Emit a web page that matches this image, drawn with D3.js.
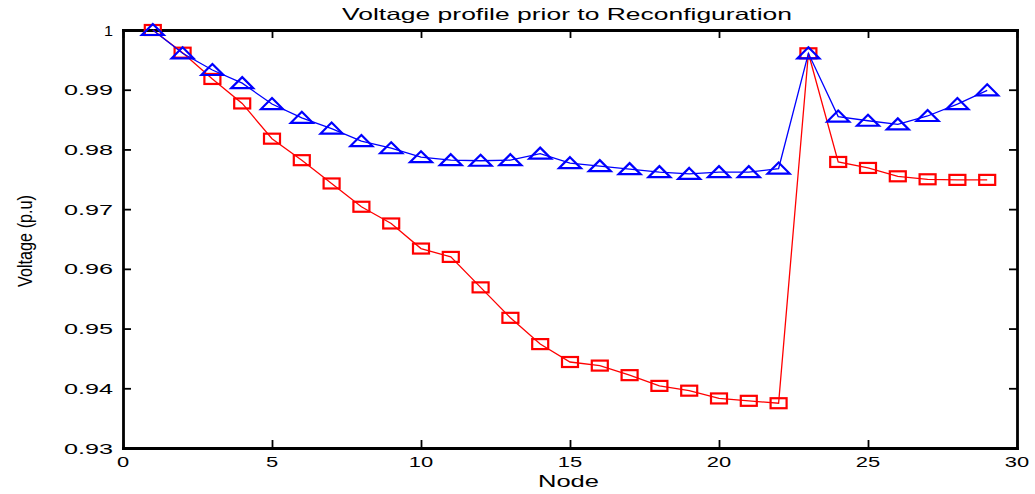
<!DOCTYPE html>
<html>
<head>
<meta charset="utf-8">
<script src="https://cdn.jsdelivr.net/npm/d3@7"></script>
<style>
  html, body { margin: 0; padding: 0; background: #fff; }
  svg { display: block; }
  text { font-family: "Liberation Sans", Arial, sans-serif; fill: #000; }
</style>
</head>
<body>
<svg id="chart" width="1035" height="494"></svg>
<script>
const nodes = d3.range(1, 30);
const beforeRed = [1.0, 0.9962, 0.9918, 0.9877, 0.9818, 0.9782, 0.9743, 0.9704, 0.9676, 0.9634,
  0.9620, 0.9569, 0.9518, 0.9474, 0.9444, 0.9438, 0.9422, 0.9404, 0.9396, 0.9383,
  0.9379, 0.9375, 0.9961, 0.9779, 0.9769, 0.9755, 0.9750, 0.9749, 0.9749];
const afterBlue = [1.0, 0.9961, 0.9933, 0.9911, 0.9876, 0.9853, 0.9835, 0.9814, 0.9802, 0.9787,
  0.9782, 0.9781, 0.9782, 0.9793, 0.9777, 0.9772, 0.9767, 0.9762, 0.9759, 0.9762,
  0.9762, 0.9768, 0.9961, 0.9855, 0.9848, 0.9842, 0.9856, 0.9876, 0.9899];
const xTicks = [0, 5, 10, 15, 20, 25, 30];
const yTicks = [0.93, 0.94, 0.95, 0.96, 0.97, 0.98, 0.99, 1];
const titleText = "Voltage profile prior to Reconfiguration";
const xLabel = "Node";
const yLabel = "Voltage (p.u)";

const svg = d3.select("#chart");
const L = 123, R = 1017, T = 30, B = 448;
const x = d3.scaleLinear().domain([0, 30]).range([L, R]);
const y = d3.scaleLinear().domain([0.93, 1]).range([B, T]);

function labelWidth(s) {
  let w = 0;
  for (const c of s) w += (c === ".") ? 12 : 12.2;
  return w;
}

// Axes (ticks inward)
const tickLen = 8;
const axB = svg.append("g").attr("transform", `translate(0,${B})`)
  .call(d3.axisBottom(x).tickValues(xTicks).tickSize(-tickLen).tickSizeOuter(0).tickFormat(""));
const axT = svg.append("g").attr("transform", `translate(0,${T})`)
  .call(d3.axisTop(x).tickValues(xTicks).tickSize(-tickLen).tickSizeOuter(0).tickFormat(""));
const axLft = svg.append("g").attr("transform", `translate(${L},0)`)
  .call(d3.axisLeft(y).tickValues(yTicks).tickSize(-tickLen).tickSizeOuter(0).tickFormat(""));
const axRt = svg.append("g").attr("transform", `translate(${R},0)`)
  .call(d3.axisRight(y).tickValues(yTicks).tickSize(-tickLen).tickSizeOuter(0).tickFormat(""));
[axB, axT, axLft, axRt].forEach(g => {
  g.select(".domain").attr("stroke", "#000").attr("stroke-width", 2.8)
    .attr("stroke-linecap", "square");
  g.selectAll(".tick line").attr("stroke", "#000").attr("stroke-width", 1.8);
});

// Tick labels
svg.append("g").selectAll("text").data(xTicks).join("text")
  .attr("x", d => x(d)).attr("y", 467)
  .attr("text-anchor", "middle").attr("font-size", 15)
  .attr("textLength", d => labelWidth(String(d)))
  .attr("lengthAdjust", "spacingAndGlyphs")
  .text(d => String(d));
svg.append("g").selectAll("text").data(yTicks).join("text")
  .attr("x", 113).attr("y", d => y(d) + 5.5)
  .attr("text-anchor", "end").attr("font-size", 15)
  .attr("textLength", d => d === 1 ? 9 : 49)
  .attr("lengthAdjust", "spacingAndGlyphs")
  .text(d => d === 1 ? "1" : d3.format(".2f")(d));

// Title and axis labels
svg.append("text").attr("x", 567).attr("y", 19.5).attr("text-anchor", "middle")
  .attr("font-size", 16.5).attr("textLength", 450).attr("lengthAdjust", "spacingAndGlyphs")
  .text(titleText);
svg.append("text").attr("x", 568.5).attr("y", 487).attr("text-anchor", "middle")
  .attr("font-size", 17).attr("textLength", 61).attr("lengthAdjust", "spacingAndGlyphs")
  .text(xLabel);
svg.append("text").attr("transform", "translate(32,241) rotate(-90)")
  .attr("text-anchor", "middle").attr("font-size", 20)
  .attr("textLength", 92).attr("lengthAdjust", "spacingAndGlyphs")
  .text(yLabel);

const line = d3.line().x((d, i) => x(nodes[i])).y(d => y(d));

// Red series (squares)
svg.append("path").datum(beforeRed).attr("d", line)
  .attr("fill", "none").attr("stroke", "#ff0000").attr("stroke-width", 1.3);
svg.append("g").selectAll("rect").data(beforeRed).join("rect")
  .attr("x", (d, i) => x(nodes[i]) - 8).attr("y", d => y(d) - 5)
  .attr("width", 16).attr("height", 10)
  .attr("fill", "none").attr("stroke", "#ff0000").attr("stroke-width", 2.2);

// Blue series (triangles)
svg.append("path").datum(afterBlue).attr("d", line)
  .attr("fill", "none").attr("stroke", "#0000ff").attr("stroke-width", 1.3);
svg.append("g").selectAll("path").data(afterBlue).join("path")
  .attr("d", (d, i) => {
    const cx = x(nodes[i]), cy = y(d);
    return `M${cx},${cy - 6}L${cx + 11},${cy + 5}L${cx - 11},${cy + 5}Z`;
  })
  .attr("fill", "none").attr("stroke", "#0000ff").attr("stroke-width", 2.2);
</script>
</body>
</html>
